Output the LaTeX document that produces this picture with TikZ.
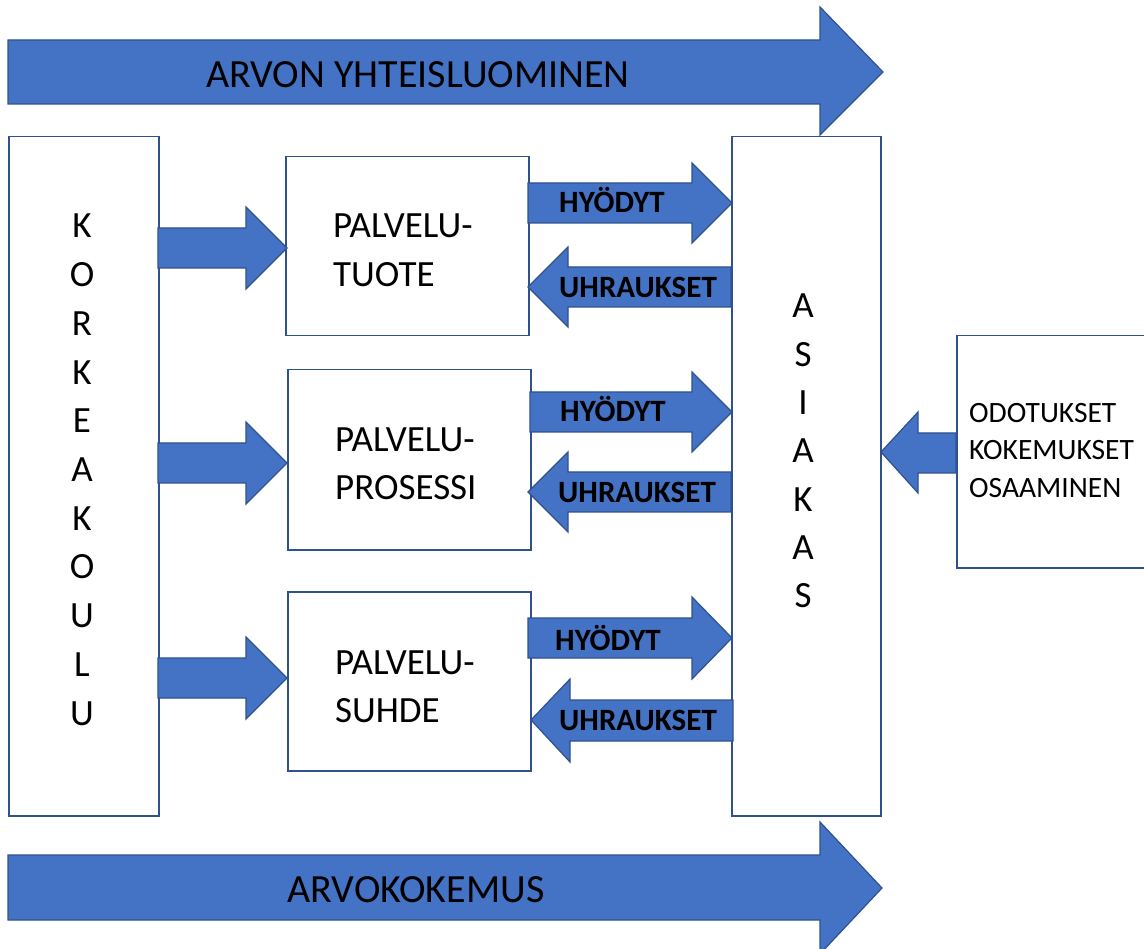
\documentclass[tikz,border=0pt]{standalone}
\usepackage{fontspec}
\setmainfont{Carlito}
\definecolor{arrblue}{HTML}{4472C4}
\definecolor{arredge}{HTML}{2F528F}
\begin{document}
\begin{tikzpicture}[x=1pt,y=-1pt,
  box/.style={draw=arredge, line width=1.5pt, fill=white, inner sep=0pt, anchor=north west},
  fat/.style={draw=arredge, fill=arrblue, line width=1.2pt, line join=miter},
  big/.style={font=\fontsize{40}{48}\selectfont, anchor=base, inner sep=0pt},
  mid/.style={font=\fontsize{37}{44}\selectfont, inner sep=0pt},
  lab/.style={font=\fontsize{31}{36}\selectfont\bfseries, anchor=base, inner sep=0pt},
  small/.style={font=\fontsize{29.5}{34}\selectfont, anchor=base west, inner sep=0pt}]
\useasboundingbox (0,0) rectangle (1144,949);
\fill[white] (0,0) rectangle (1144,949);

% boxes
\node[box, minimum width=150pt, minimum height=679pt] (korkea) at (8,136) {};
\node[box, minimum width=149pt, minimum height=679pt] (asiakas) at (731,136) {};
\node[box, minimum width=243pt, minimum height=179pt] (tuote) at (285,156) {};
\node[box, minimum width=243pt, minimum height=180pt] (prosessi) at (287,369) {};
\node[box, minimum width=243pt, minimum height=179pt] (suhde) at (287,591) {};
\node[box, minimum width=220pt, minimum height=232pt] (odot) at (956,335) {};

% big arrows
\draw[fat] (8,40) -- (820,40) -- (820,7) -- (883,72) -- (820,135) -- (820,104) -- (8,104) -- cycle;
\draw[fat] (8,855) -- (820,855) -- (820,822) -- (882,888) -- (820,954) -- (820,920) -- (8,920) -- cycle;
\node[big] (arvon) at (418,88) {ARVON YHTEISLUOMINEN};
\node[big] (arvok) at (416,902) {ARVOKOKEMUS};

% korkeakoulu -> boxes
\draw[fat] (158,228) -- (246,228) -- (246,207) -- (287,248) -- (246,289) -- (246,268) -- (158,268) -- cycle;
\draw[fat] (158,443) -- (246,443) -- (246,422) -- (287,463) -- (246,504) -- (246,483) -- (158,483) -- cycle;
\draw[fat] (158,658) -- (246,658) -- (246,637) -- (287,678) -- (246,719) -- (246,698) -- (158,698) -- cycle;

% hyodyt arrows
\draw[fat] (528,183) -- (692,183) -- (692,163) -- (732,203) -- (692,243) -- (692,223) -- (528,223) -- cycle;
\draw[fat] (530,392) -- (692,392) -- (692,372) -- (732,412) -- (692,452) -- (692,432) -- (530,432) -- cycle;
\draw[fat] (528,618) -- (692,618) -- (692,597) -- (732,638) -- (692,679) -- (692,658) -- (528,658) -- cycle;

% uhraukset arrows
\draw[fat] (731,267) -- (568,267) -- (568,247) -- (528,287) -- (568,327) -- (568,307) -- (731,307) -- cycle;
\draw[fat] (731,472) -- (568,472) -- (568,452) -- (528,492) -- (568,532) -- (568,512) -- (731,512) -- cycle;
\draw[fat] (733,700) -- (570,700) -- (570,679) -- (531,720) -- (570,762) -- (570,741) -- (733,741) -- cycle;

% odotukset -> asiakas
\draw[fat] (956,433) -- (918,433) -- (918,412) -- (881,452) -- (918,493) -- (918,473) -- (956,473) -- cycle;

% arrow labels
\node[lab] (h1) at (612,213) {HYÖDYT};
\node[lab] (u1) at (638,298) {UHRAUKSET};
\node[lab] (h2) at (613,422) {HYÖDYT};
\node[lab] (u2) at (637,503) {UHRAUKSET};
\node[lab] (h3) at (608,650) {HYÖDYT};
\node[lab] (u3) at (638,730) {UHRAUKSET};

% vertical letters
\foreach \l [count=\i] in {K,O,R,K,E,A,K,O,U,L,U}
  \node[mid, anchor=base] (kl\i) at (82,{238+48.7*(\i-1)}) {\l};
\foreach \l [count=\i] in {A,S,I,A,K,A,S}
  \node[mid, anchor=base] (al\i) at (803,{318+48.3*(\i-1)}) {\l};

% box texts
\node[mid, anchor=base west] (t1a) at (333,238) {PALVELU-};
\node[mid, anchor=base west] (t1b) at (333,287) {TUOTE};
\node[mid, anchor=base west] (t2a) at (335,452) {PALVELU-};
\node[mid, anchor=base west] (t2b) at (335,500) {PROSESSI};
\node[mid, anchor=base west] (t3a) at (335,674) {PALVELU-};
\node[mid, anchor=base west] (t3b) at (335,722) {SUHDE};

\node[small] (o1) at (969,423) {ODOTUKSET};
\node[small] (o2) at (969,460) {KOKEMUKSET};
\node[small] (o3) at (969,498) {OSAAMINEN};
\end{tikzpicture}
\end{document}
